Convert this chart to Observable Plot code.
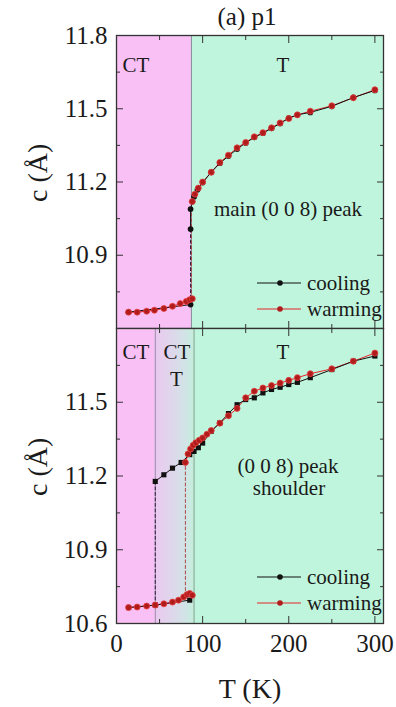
<!DOCTYPE html>
<html><head><meta charset="utf-8">
<script src="https://cdn.jsdelivr.net/npm/d3@7"></script>
<script src="https://cdn.jsdelivr.net/npm/@observablehq/plot@0.6"></script>
<style>
html,body{margin:0;padding:0;background:#fff;}
#chart{position:relative;width:396px;height:707px;font:20px 'Liberation Serif';color:#1a1a1a;}
#chart > svg{position:absolute;left:0;overflow:visible;}
#chart svg text{font-family:'Liberation Serif';}
.legend{position:absolute;display:flex;align-items:center;font:21px 'Liberation Serif';height:24px;line-height:24px;white-space:nowrap;}
</style></head><body><div id="chart"></div>
<script>
// ---- scales / ticks ----
const xDomain = [0, 310];
const yDomain = [10.6, 11.8];
const xMajor = [0, 100, 200, 300];
const xMinor = [50, 150, 250];
const yMajor = [10.6, 10.9, 11.2, 11.5, 11.8];
const yMinor = [10.75, 11.05, 11.35, 11.65];
const topYLabels = [10.9, 11.2, 11.5, 11.8];
const bottomYLabels = [10.6, 10.9, 11.2, 11.5];
const xLabels = [0, 100, 200, 300];

// ---- phase region boundaries (K) ----
const topBounds = [0, 87, 310];
const bottomBounds = [0, 45, 90, 310];

// ---- top panel: main (0 0 8) peak ----
const topCoolUpperT = [300,275,250,225,210,200,190,180,170,160,150,140,130,120,110,100,94,90,88,86,86];
const topCoolUpperC = [11.575,11.546,11.51,11.485,11.475,11.462,11.44,11.42,11.40,11.383,11.36,11.335,11.306,11.277,11.24,11.198,11.168,11.14,11.12,11.089,11.007];
const topCoolJumpT = [86, 86];
const topCoolJumpC = [11.007, 10.698];
const topCoolLowerT = [86, 14];
const topCoolLowerC = [10.698, 10.667];
const topWarmLowerT = [14,24,35,44,55,65,74,81,85,88];
const topWarmLowerC = [10.667,10.667,10.671,10.675,10.682,10.691,10.702,10.711,10.718,10.722];
const topWarmJumpT = [87, 87];
const topWarmJumpC = [10.722, 11.12];
const topWarmUpperT = [88,91,95,100,110,120,130,140,150,160,170,180,190,200,210,225,250,275,300];
const topWarmUpperC = [11.12,11.15,11.175,11.2,11.24,11.28,11.31,11.34,11.362,11.385,11.402,11.422,11.442,11.46,11.475,11.49,11.512,11.545,11.578];

// ---- bottom panel: (0 0 8) peak shoulder ----
const botCoolUpperT = [300,275,250,225,210,200,190,180,170,160,150,140,130,120,110,100,95,90,85,75,65,55,45];
const botCoolUpperC = [11.688,11.667,11.633,11.60,11.581,11.572,11.561,11.552,11.538,11.518,11.511,11.49,11.454,11.416,11.382,11.334,11.315,11.30,11.287,11.255,11.232,11.205,11.178];
const botCoolJumpT = [45, 45];
const botCoolJumpC = [11.178, 10.675];
const botCoolLowerT = [85, 45, 14];
const botCoolLowerC = [10.695, 10.675, 10.665];
const botWarmLowerT = [14,24,35,45,55,65,72,78,82,85,88];
const botWarmLowerC = [10.665,10.667,10.671,10.675,10.68,10.687,10.695,10.708,10.718,10.722,10.715];
const botWarmJumpT = [80, 80];
const botWarmJumpC = [10.712, 11.255];
const botWarmUpperT = [80,83,86,89,92,96,100,105,110,120,130,140,150,160,170,180,190,200,210,225,250,275,300];
const botWarmUpperC = [11.255,11.29,11.31,11.325,11.335,11.345,11.355,11.37,11.385,11.415,11.445,11.475,11.518,11.545,11.558,11.568,11.578,11.589,11.6,11.616,11.636,11.667,11.70];

const seriesNames = ["cooling", "warming"];

// ---- styles ----
const PINK = "#f8c0f4", GREEN = "#bff5dc", MIDFALLBACK = "#dcd6ea";
const COOL = "#111111", WARM_LINE = "#e3262a", WARM_DOT = "#b01c1c";
const FONT = "Liberation Serif";

const pts = (T, C) => T.map((t, i) => ({T: t, c: C[i]}));
const blank = () => "";

function tickMarks() {
  const o = {stroke: "#333", label: null, tickFormat: blank};
  return [
    Plot.axisY(yMajor, {...o, anchor: "left", tickSize: -7}),
    Plot.axisY(yMinor, {...o, anchor: "left", tickSize: -4}),
    Plot.axisY(yMajor, {...o, anchor: "right", tickSize: -7}),
    Plot.axisY(yMinor, {...o, anchor: "right", tickSize: -4}),
    Plot.axisX(xMajor, {...o, anchor: "top", tickSize: -7}),
    Plot.axisX(xMinor, {...o, anchor: "top", tickSize: -4}),
    Plot.axisX(xMajor, {...o, anchor: "bottom", tickSize: -7}),
    Plot.axisX(xMinor, {...o, anchor: "bottom", tickSize: -4})
  ];
}

function dataMarks(s, coolSymbol) {
  return [
    Plot.line(pts(s.wUT, s.wUC), {x: "T", y: "c", stroke: WARM_LINE, strokeWidth: 1}),
    Plot.line(pts(s.wLT, s.wLC), {x: "T", y: "c", stroke: WARM_LINE, strokeWidth: 1}),
    Plot.line(pts(s.wJT, s.wJC), {x: "T", y: "c", stroke: "#b04848", strokeWidth: 1, strokeDasharray: "3,2.5"}),
    Plot.line(pts(s.cUT, s.cUC), {x: "T", y: "c", stroke: COOL, strokeWidth: 1}),
    Plot.line(pts(s.cLT, s.cLC), {x: "T", y: "c", stroke: COOL, strokeWidth: 1}),
    Plot.line(pts(s.cJT, s.cJC), {x: "T", y: "c", stroke: "#2a1a3a", strokeWidth: 1, strokeDasharray: "3,2.5"}),
    Plot.dot(pts(s.cUT, s.cUC).concat(pts(s.cLT, s.cLC)), {x: "T", y: "c", r: 2.9, fill: COOL, symbol: coolSymbol}),
    Plot.dot(pts(s.wUT, s.wUC).concat(pts(s.wLT, s.wLC)), {x: "T", y: "c", r: 3, fill: WARM_DOT, stroke: "#e84040", strokeWidth: 0.8}),
  ];
}

const baseStyle = {fontFamily: FONT, fontSize: "25px", color: "#1a1a1a", background: "transparent", overflow: "visible"};

// ---------- TOP PANEL ----------
const topPlot = Plot.plot({
  width: 396, height: 328,
  marginLeft: 116, marginRight: 13, marginTop: 35, marginBottom: 0,
  x: {domain: xDomain, axis: null},
  y: {domain: yDomain, axis: null},
  style: baseStyle,
  marks: [
    Plot.rect([{x1: topBounds[0], x2: topBounds[1], y1: yDomain[0], y2: yDomain[1]}], {x1: "x1", x2: "x2", y1: "y1", y2: "y2", fill: PINK}),
    Plot.rect([{x1: topBounds[1], x2: topBounds[2], y1: yDomain[0], y2: yDomain[1]}], {x1: "x1", x2: "x2", y1: "y1", y2: "y2", fill: GREEN}),
    Plot.ruleX(topBounds.slice(1, -1), {stroke: "#8b8b9b", strokeWidth: 1}),
    ...tickMarks(),
    Plot.axisY(topYLabels, {anchor: "left", tickSize: 0, tickPadding: 9, fontSize: 25, label: null, tickFormat: d => d.toFixed(1)}),
    ...dataMarks({
      cUT: topCoolUpperT, cUC: topCoolUpperC, cJT: topCoolJumpT, cJC: topCoolJumpC, cLT: topCoolLowerT, cLC: topCoolLowerC,
      wUT: topWarmUpperT, wUC: topWarmUpperC, wJT: topWarmJumpT, wJC: topWarmJumpC, wLT: topWarmLowerT, wLC: topWarmLowerC
    }, "circle"),
    Plot.frame({stroke: "#333", strokeWidth: 1.3}),
    Plot.text(["(a) p1"], {text: d => d, frameAnchor: "top", dx: -3, dy: -11, lineAnchor: "bottom", fontSize: 25}),
    Plot.text(["CT"], {text: d => d, frameAnchor: "top-left", textAnchor: "start", lineAnchor: "bottom", dx: 6, dy: 36, fontSize: 21}),
    Plot.text(["T"], {text: d => d, frameAnchor: "top", lineAnchor: "bottom", dx: 33, dy: 36, fontSize: 21}),
    Plot.text(["main (0 0 8) peak"], {text: d => d, frameAnchor: "top", lineAnchor: "bottom", dx: 38, dy: 180, fontSize: 21}),
    Plot.text(["c (Å)"], {text: d => d, frameAnchor: "left", rotate: -90, dx: -78, dy: 20, fontSize: 28, ariaLabel: "ylabel"})
  ]
});

// ---------- BOTTOM PANEL ----------
const botPlot = Plot.plot({
  width: 396, height: 379,
  marginLeft: 116, marginRight: 13, marginTop: 0, marginBottom: 84,
  x: {domain: xDomain, axis: null},
  y: {domain: yDomain, axis: null},
  style: baseStyle,
  marks: [
    Plot.rect([{x1: bottomBounds[0], x2: bottomBounds[1], y1: yDomain[0], y2: yDomain[1]}], {x1: "x1", x2: "x2", y1: "y1", y2: "y2", fill: PINK}),
    Plot.rect([{x1: bottomBounds[1], x2: bottomBounds[2], y1: yDomain[0], y2: yDomain[1]}], {x1: "x1", x2: "x2", y1: "y1", y2: "y2", fill: MIDFALLBACK}),
    Plot.rect([{x1: bottomBounds[2], x2: bottomBounds[3], y1: yDomain[0], y2: yDomain[1]}], {x1: "x1", x2: "x2", y1: "y1", y2: "y2", fill: GREEN}),
    Plot.ruleX([bottomBounds[1]], {stroke: "#9a82aa", strokeWidth: 1}),
    Plot.ruleX([bottomBounds[2]], {stroke: "#7f9c8c", strokeWidth: 1}),
    ...tickMarks(),
    Plot.axisY(bottomYLabels, {anchor: "left", tickSize: 0, tickPadding: 9, fontSize: 25, label: null, tickFormat: d => d.toFixed(1)}),
    Plot.axisX(xLabels, {anchor: "bottom", tickSize: 0, tickPadding: 11, fontSize: 25, label: null, tickFormat: d => String(d)}),
    ...dataMarks({
      cUT: botCoolUpperT, cUC: botCoolUpperC, cJT: botCoolJumpT, cJC: botCoolJumpC, cLT: botCoolLowerT, cLC: botCoolLowerC,
      wUT: botWarmUpperT, wUC: botWarmUpperC, wJT: botWarmJumpT, wJC: botWarmJumpC, wLT: botWarmLowerT, wLC: botWarmLowerC
    }, "square"),
    Plot.frame({stroke: "#333", strokeWidth: 1.3}),
    Plot.text(["CT"], {text: d => d, frameAnchor: "top-left", textAnchor: "start", lineAnchor: "bottom", dx: 6, dy: 30, fontSize: 21}),
    Plot.text(["CT"], {text: d => d, frameAnchor: "top-left", textAnchor: "start", lineAnchor: "bottom", dx: 47, dy: 30, fontSize: 21}),
    Plot.text(["T"], {text: d => d, frameAnchor: "top-left", textAnchor: "middle", lineAnchor: "bottom", dx: 60, dy: 57, fontSize: 21}),
    Plot.text(["T"], {text: d => d, frameAnchor: "top", lineAnchor: "bottom", dx: 33, dy: 30, fontSize: 21}),
    Plot.text(["(0 0 8) peak"], {text: d => d, frameAnchor: "top", lineAnchor: "bottom", dx: 38, dy: 144, fontSize: 21}),
    Plot.text(["shoulder"], {text: d => d, frameAnchor: "top", lineAnchor: "bottom", dx: 39, dy: 166, fontSize: 21}),
    Plot.text(["T (K)"], {text: d => d, frameAnchor: "bottom", lineAnchor: "bottom", dx: 0, dy: 74, fontSize: 28}),
    Plot.text(["c (Å)"], {text: d => d, frameAnchor: "left", rotate: -90, dx: -78, dy: 20, fontSize: 28, ariaLabel: "ylabel"})
  ]
});

// gradient for the coexistence (CT + T) region
const ns = "http://www.w3.org/2000/svg";
const defs = document.createElementNS(ns, "defs");
const grad = document.createElementNS(ns, "linearGradient");
grad.setAttribute("id", "midgrad");
grad.setAttribute("x1", "0"); grad.setAttribute("x2", "1"); grad.setAttribute("y1", "0"); grad.setAttribute("y2", "0");
[["0", "#ecc8f0"], ["0.5", "#dcd9ea"], ["0.8", "#d0e4e6"], ["1", "#c4efdc"]].forEach(([o, c]) => {
  const s = document.createElementNS(ns, "stop");
  s.setAttribute("offset", o); s.setAttribute("stop-color", c);
  grad.appendChild(s);
});
defs.appendChild(grad);
botPlot.insertBefore(defs, botPlot.firstChild);
d3.select(botPlot).selectAll("*").filter(function () {
  const f = this.getAttribute("fill");
  return f && f.toLowerCase() === MIDFALLBACK;
}).attr("fill", "url(#midgrad)");

// serif font on every svg text, italic c in y labels
[topPlot, botPlot].forEach(svg => {
  svg.setAttribute("font-family", FONT);
  d3.select(svg).selectAll("text").attr("font-family", FONT).style("font-family", "'Liberation Serif'");
  d3.select(svg).selectAll("g[aria-label='ylabel'] text").each(function () {
    this.innerHTML = '<tspan font-style="italic">c</tspan> (Å)';
  });
});

const chart = document.getElementById("chart");
topPlot.style.top = "0px";
botPlot.style.top = "328px";
chart.append(topPlot, botPlot);

// legends
function legend(yCenter) {
  const items = [
    {label: seriesNames[0], line: COOL, dot: COOL},
    {label: seriesNames[1], line: WARM_LINE, dot: WARM_DOT}
  ];
  items.forEach((it, i) => {
    const d = document.createElement("div");
    d.className = "legend";
    d.style.left = "257px";
    d.style.top = (yCenter + i * 26 - 12) + "px";
    d.innerHTML = `<svg width="44" height="24"><line x1="0" x2="44" y1="12" y2="12" stroke="${it.line}" stroke-width="1"/><circle cx="23" cy="12" r="2.8" fill="${it.dot}"/></svg><span style="margin-left:6px">${it.label}</span>`;
    chart.append(d);
  });
}
legend(283);
legend(577);
</script></body></html>
